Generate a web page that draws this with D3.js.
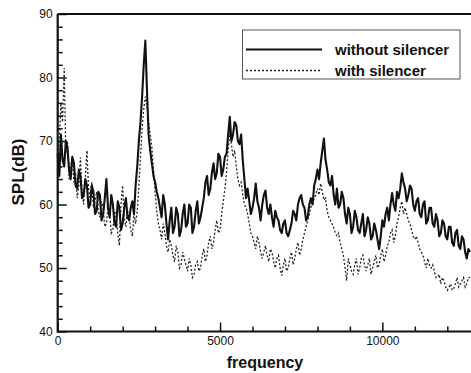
<!DOCTYPE html>
<html>
<head>
<meta charset="utf-8">
<script src="https://cdn.jsdelivr.net/npm/d3@7"></script>
<style>
  html, body { margin: 0; padding: 0; background: #fff; }
  svg { display: block; }
  text { font-family: "Liberation Sans", Arial, sans-serif; fill: #111; }
</style>
</head>
<body>
<svg id="chart" width="471" height="373"></svg>
<script>
// ---- data ----
const freqStep = 50; // Hz between samples, samples start at 0 Hz
const withoutSilencer = [
  68, 64.5, 71, 67, 66, 70, 69, 65.5, 64, 67.5, 66.5, 63, 62.5, 65.5, 64.5, 61, 61.5, 64, 63, 59.5,
  60, 63, 62, 58.5, 59, 62, 61.5, 57.5, 58.5, 61, 64, 59.5, 58, 61.5, 60, 57, 56.5, 60.5, 59.5, 56,
  57, 59.5, 61, 58, 57.5, 59.5, 60.5, 58.5, 63, 66, 70, 73, 77, 82, 85.8, 78, 71, 68.5, 66.5, 64.5,
  63.5, 62, 61, 59.5, 58, 61.5, 60, 57, 54.5, 57.5, 59.5, 55.5, 56.5, 59.5, 58.5, 55, 56, 58.5, 60, 56.5,
  57, 60, 59.5, 55.5, 56.5, 59, 60.5, 57, 58, 59.5, 61, 63.5, 64.5, 61.5, 62.5, 65, 66.5, 64, 65, 68,
  67.5, 64.5, 65.5, 67.5, 68, 71, 73.8, 70, 71, 73, 72.5, 70, 69.5, 71, 67, 64, 61, 62.5, 60.5, 58.5,
  59.5, 61, 63.3, 60.5, 59.5, 57.5, 60, 61.5, 62.2, 59.5, 58.5, 60, 58, 56.5, 59, 58, 57.5, 56, 55.5, 57,
  57.5, 55.5, 55, 56, 57, 59, 58.5, 57.5, 60, 61, 61.5, 60, 59.5, 57.5, 58, 60, 61, 60, 63, 64,
  65.5, 64, 66.5, 68.5, 70.4, 67, 65.5, 63.5, 63, 64.5, 61.5, 60, 62.5, 59.5, 60, 62, 61, 58.5, 57, 59.5,
  58.5, 55.5, 56.5, 59, 58, 56, 55.5, 57, 58.5, 55, 56, 58, 57, 54.5, 55, 57, 56, 54.5, 53, 55,
  57.5, 56.5, 58.5, 59.5, 57.5, 60, 61.8, 60, 59, 62, 61, 62.5, 64.9, 63.5, 62.5, 60.5, 61.5, 63, 62.5, 60,
  59, 60.5, 61, 58.5, 58, 60, 60.5, 57, 57.5, 59.5, 59.5, 57, 56.5, 58.5, 57.5, 55, 55.5, 57.5, 57, 55,
  54.5, 56.5, 56.5, 54, 53.5, 55.5, 56, 53.5, 53, 55, 54.5, 52.5, 51.5, 53, 52.5
];
const withSilencer = [
  66, 70, 76, 73, 81.5, 68, 70, 64, 66, 67.5, 63.5, 65, 61, 63, 67.4, 62, 60, 64, 68.5, 62.5,
  61, 63.5, 59.5, 60.5, 62, 59, 58, 60.5, 59.5, 56.5, 57, 59.5, 58.5, 55.5, 56, 59, 58, 55.5, 53.5, 60,
  63, 58, 56.5, 59, 58, 56, 55, 58.5, 57, 59, 63, 67.5, 72, 75, 77, 75.5, 73, 71, 69, 65.5,
  62, 59, 57, 56, 54.5, 57, 55.5, 53.5, 52.5, 54.5, 53.5, 52, 51, 53.5, 52.5, 50, 50.5, 52.5, 51.5, 50.5,
  49.5, 51.5, 50.5, 48.5, 49, 50.5, 51, 49.5, 50, 52, 53, 51, 52, 54, 55, 53, 54, 56, 57.5, 55.5,
  56, 58.5, 60.5, 62.5, 65, 68.5, 71.5, 69.5, 67.5, 68.5, 66, 64, 63, 63.5, 61.5, 60, 59.5, 58.5, 57, 55.5,
  55, 54, 53, 55, 54, 52.5, 51.5, 52.5, 53.5, 52, 51, 53, 52.5, 51, 50, 51.5, 52, 50, 48.8, 50.5,
  51.5, 49.5, 50, 51.5, 52.5, 50.5, 51.5, 53, 54, 52, 53, 54.5, 55.5, 56.5, 57.5, 58.5, 59.6, 60, 61, 61.5,
  62.5, 61.5, 63.3, 62, 60.7, 61, 59, 58, 57.5, 57, 56.4, 55.5, 55, 55.5, 54, 53, 52, 50, 48, 51.5,
  50.5, 49.5, 49, 50.5, 51.5, 49, 50, 51.5, 52, 50.5, 49.5, 50.5, 51.5, 49, 50, 51, 52, 50, 50.5, 52,
  53, 51, 52, 53.5, 54, 55.5, 56, 54, 55, 57, 58, 59.5, 60.5, 58.5, 59.5, 58.5, 57.5, 57, 56, 55,
  54.5, 55, 54, 53, 52.5, 52, 51, 50, 51.5, 50.5, 50, 50.5, 49.5, 48.5, 48.5, 49, 47.5, 48.5, 48, 47,
  46.5, 47, 47.5, 46.5, 46.8, 47.5, 48.5, 47, 47.5, 48, 48.5, 47, 47.5, 48.5, 48.5
];
const xTicks = [0, 5000, 10000];
const yTicks = [40, 50, 60, 70, 80, 90];
const seriesNames = ["without silencer", "with silencer"];
const xLabel = "frequency";
const yLabel = "SPL(dB)";

// ---- layout ----
const svg = d3.select("#chart");
const L = 57.7, R = 471, T = 14, B = 331.5;
const x = d3.scaleLinear().domain([0, 12730]).range([L, R]);
const y = d3.scaleLinear().domain([40, 90]).range([B, T]);

const toPts = arr => arr.map((v, i) => [i * freqStep, v]);
const line = d3.line().x(d => x(d[0])).y(d => y(d[1]));

// series
svg.append("path").datum(toPts(withSilencer))
  .attr("d", line).attr("fill", "none")
  .attr("stroke", "#222").attr("stroke-width", 1.3)
  .attr("stroke-dasharray", "2,2");
svg.append("path").datum(toPts(withoutSilencer))
  .attr("d", line).attr("fill", "none")
  .attr("stroke", "#111").attr("stroke-width", 2.1)
  .attr("stroke-linejoin", "round");

// axes with inward ticks
const xMinor = d3.range(0, 12800, 1000).filter(v => !xTicks.includes(v));
const yMinor = d3.range(40, 90.1, 2).filter(v => !yTicks.includes(v));

const gx = svg.append("g").attr("transform", `translate(0,${B})`);
gx.call(d3.axisBottom(x).tickValues(xMinor).tickSize(-5).tickFormat(""));
gx.call(g => g.append("g").call(d3.axisBottom(x).tickValues(xTicks).tickSize(-9).tickFormat(d3.format("d"))));
gx.selectAll(".domain").remove();
gx.selectAll("line").attr("stroke", "#111").attr("stroke-width", 1.5);
gx.selectAll("text").attr("font-size", 12).attr("y", 5).attr("dy", "0.71em")
  .attr("font-family", "Liberation Sans, Arial, sans-serif").attr("fill", "#111");

const gy = svg.append("g").attr("transform", `translate(${L},0)`);
gy.call(d3.axisLeft(y).tickValues(yMinor).tickSize(-5).tickFormat(""));
gy.call(g => g.append("g").call(d3.axisLeft(y).tickValues(yTicks).tickSize(-9).tickFormat(d3.format("d"))));
gy.selectAll(".domain").remove();
gy.selectAll("line").attr("stroke", "#111").attr("stroke-width", 1.5);
gy.selectAll("text").attr("font-size", 12).attr("x", -5)
  .attr("font-family", "Liberation Sans, Arial, sans-serif").attr("fill", "#111");

// frame lines
svg.append("line").attr("x1", L).attr("x2", R).attr("y1", B).attr("y2", B)
  .attr("stroke", "#111").attr("stroke-width", 2.2);
svg.append("line").attr("x1", L).attr("x2", L).attr("y1", T).attr("y2", B + 1)
  .attr("stroke", "#111").attr("stroke-width", 2.2);
svg.append("line").attr("x1", L).attr("x2", R).attr("y1", T).attr("y2", T)
  .attr("stroke", "#111").attr("stroke-width", 2);

// axis titles
svg.append("text").attr("x", 265).attr("y", 368).attr("text-anchor", "middle")
  .attr("font-size", 16).attr("font-weight", "bold").text(xLabel);
svg.append("text").attr("transform", "translate(24,172) rotate(-90)")
  .attr("text-anchor", "middle").attr("font-size", 17).attr("font-weight", "bold").text(yLabel);

// legend
const lg = svg.append("g");
lg.append("rect").attr("x", 242.5).attr("y", 30).attr("width", 217.5).attr("height", 49)
  .attr("fill", "#fff").attr("stroke", "#555").attr("stroke-width", 1);
lg.append("line").attr("x1", 246).attr("x2", 322).attr("y1", 49.5).attr("y2", 49.5)
  .attr("stroke", "#111").attr("stroke-width", 2.2);
lg.append("line").attr("x1", 246).attr("x2", 322).attr("y1", 70.5).attr("y2", 70.5)
  .attr("stroke", "#222").attr("stroke-width", 1.3).attr("stroke-dasharray", "2,2");
lg.append("text").attr("x", 335).attr("y", 55).attr("font-size", 15).attr("font-weight", "bold").text(seriesNames[0]);
lg.append("text").attr("x", 335).attr("y", 76).attr("font-size", 15).attr("font-weight", "bold").text(seriesNames[1]);
</script>
</body>
</html>
